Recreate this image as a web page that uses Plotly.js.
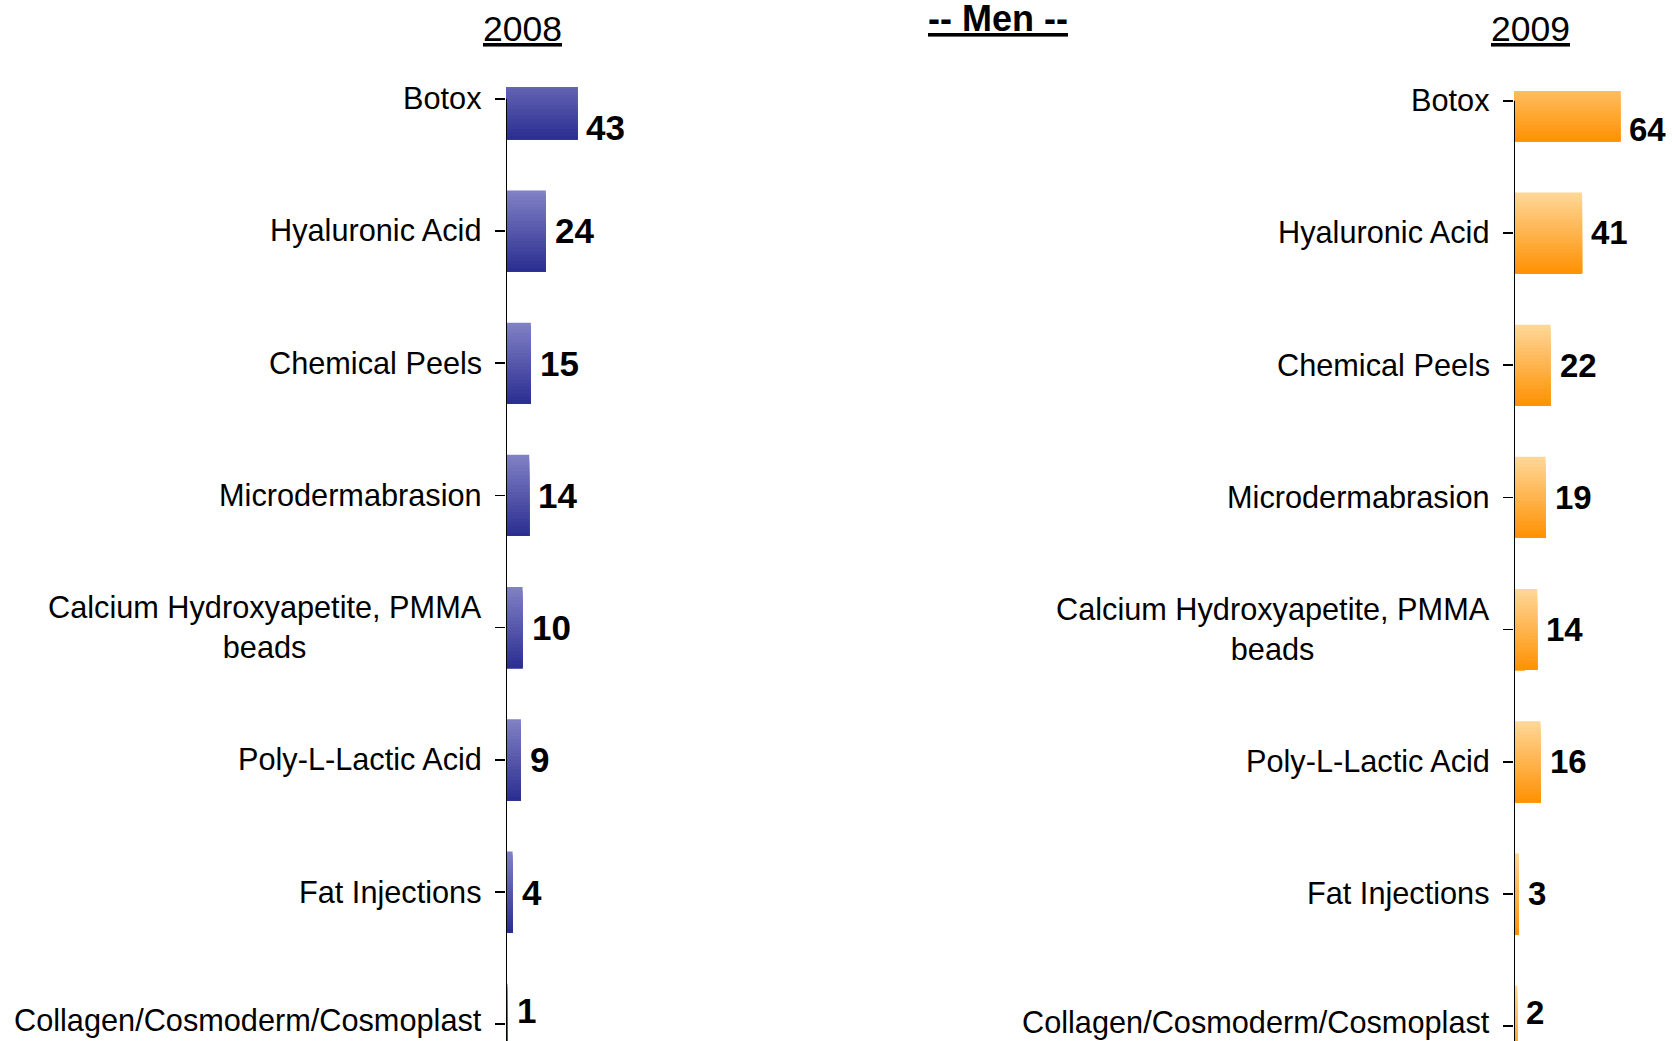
<!DOCTYPE html>
<html>
<head>
<meta charset="utf-8">
<script src="https://cdn.plot.ly/plotly-3.0.1.min.js"></script>
<style>
  html, body { margin: 0; padding: 0; background: #ffffff; }
  #chart { width: 1672px; height: 1041px; }
</style>
</head>
<body>
<div id="chart"></div>
<script>
// ---------------- data ----------------
const categories = [
  'Botox',
  'Hyaluronic Acid',
  'Chemical Peels',
  'Microdermabrasion',
  'Calcium Hydroxyapetite, PMMA beads',
  'Poly-L-Lactic Acid',
  'Fat Injections',
  'Collagen/Cosmoderm/Cosmoplast'
];
const tickLabels = [
  'Botox',
  'Hyaluronic Acid',
  'Chemical Peels',
  'Microdermabrasion',
  'Calcium Hydroxyapetite, PMMA<br>beads',
  'Poly-L-Lactic Acid',
  'Fat Injections',
  'Collagen/Cosmoderm/Cosmoplast'
];
const values2008 = [43, 24, 15, 14, 10, 9, 4, 1];
const values2009 = [64, 41, 22, 19, 14, 16, 3, 2];
const panelTitles = ['2008', '2009'];
const mainTitle = '-- Men --';

// ---------------- style ----------------
const FONT = '"Liberation Sans", Arial, Helvetica, sans-serif';
const W = 1672, H = 1041;
const PX_PER_UNIT = 1.66;
const BAR_W = 0.613;
const STRIPS = 24;

const panels = [
  { xa: 'x',  ya: 'y',  axisPx: 506,  topPx: 87, range: [7.127, -0.089], xmax: 100, valueSize: 35,
    values: values2008, top: [128, 128, 196], bottom: [44, 47, 146], title: panelTitles[0], titleX: 522 },
  { xa: 'x2', ya: 'y2', axisPx: 1514, topPx: 91, range: [7.112, -0.074], xmax: 90, valueSize: 33,
    values: values2009, top: [255, 214, 150], bottom: [255, 146, 5], title: panelTitles[1], titleX: 1530 }
];
// small vertical nudges (px) for the value labels and the category labels
const labelNudge = [-29, 0, 0, 0, 0, 0, 0, 14];
const catNudge = [0, 0, 0, 0, 0, 0, 0, 4];

function mix(a, b, t) {
  return 'rgb(' + a.map((v, i) => Math.round(v + (b[i] - v) * t)).join(',') + ')';
}

const traces = [];
const annotations = [];
const shapes = [];
const layout = {
  width: W, height: H,
  margin: { l: 0, r: 0, t: 0, b: 0, pad: 0 },
  paper_bgcolor: '#ffffff',
  plot_bgcolor: 'rgba(0,0,0,0)',
  barmode: 'overlay',
  showlegend: false,
  font: { family: FONT, color: '#000000' }
};

panels.forEach((p, pi) => {
  const step = BAR_W / STRIPS;
  for (let i = 0; i < STRIPS; i++) {
    traces.push({
      type: 'bar',
      orientation: 'h',
      x: p.values,
      y: categories,
      xaxis: p.xa,
      yaxis: p.ya,
      offset: -BAR_W / 2 + i * step,
      width: BAR_W - i * step,
      marker: { color: mix(p.top, p.bottom, i / (STRIPS - 1)), line: { width: 0 } },
      hoverinfo: 'skip',
      showlegend: false
    });
  }
  const x0 = p.axisPx / W;
  const x1 = (p.axisPx + p.xmax * PX_PER_UNIT) / W;
  const xKey = pi === 0 ? 'xaxis' : 'xaxis2';
  const yKey = pi === 0 ? 'yaxis' : 'yaxis2';
  layout[xKey] = {
    domain: [x0, x1], range: [0, p.xmax], visible: false, fixedrange: true,
    anchor: p.ya
  };
  layout[yKey] = {
    domain: [0, (H - p.topPx) / H],
    type: 'category',
    categoryorder: 'array',
    categoryarray: categories,
    range: p.range,
    anchor: p.xa,
    showline: false, showgrid: false, zeroline: false,
    ticks: 'outside', ticklen: 10, tickwidth: 1.5, tickcolor: '#000000',
    showticklabels: false, fixedrange: true
  };
  // axis line from first category down to the bottom
  shapes.push({
    type: 'line', xref: p.xa, yref: p.ya,
    x0: 0, x1: 0, y0: 0, y1: p.range[0],
    line: { color: '#000000', width: 2 }
  });
  // category labels and value labels
  categories.forEach((c, k) => {
    annotations.push({
      xref: p.xa, yref: p.ya, x: 0, y: c,
      text: tickLabels[k], showarrow: false,
      xanchor: 'right', yanchor: 'middle', align: 'center',
      xshift: -22, yshift: catNudge[k],
      font: { family: FONT, size: 30.7, color: '#000000' }
    });
    annotations.push({
      xref: p.xa, yref: p.ya, x: p.values[k], y: c,
      text: String(p.values[k]), showarrow: false,
      xanchor: 'left', yanchor: 'middle',
      xshift: 7, yshift: labelNudge[k],
      font: { family: FONT, size: p.valueSize, color: '#000000', weight: 'bold' }
    });
  });
  // panel title
  annotations.push({
    xref: 'paper', yref: 'paper', x: p.titleX / W, y: 1,
    xanchor: 'center', yanchor: 'top', yshift: -7,
    text: p.title, showarrow: false,
    font: { family: FONT, size: 35.5, color: '#000000', lineposition: 'under' }
  });
});

annotations.push({
  xref: 'paper', yref: 'paper', x: 998 / W, y: 1,
  xanchor: 'center', yanchor: 'top', yshift: 4,
  text: mainTitle, showarrow: false,
  font: { family: FONT, size: 36, color: '#000000', weight: 'bold', lineposition: 'under' }
});

layout.annotations = annotations;
layout.shapes = shapes;

Plotly.newPlot('chart', traces, layout, { displayModeBar: false, staticPlot: true });
</script>
</body>
</html>
